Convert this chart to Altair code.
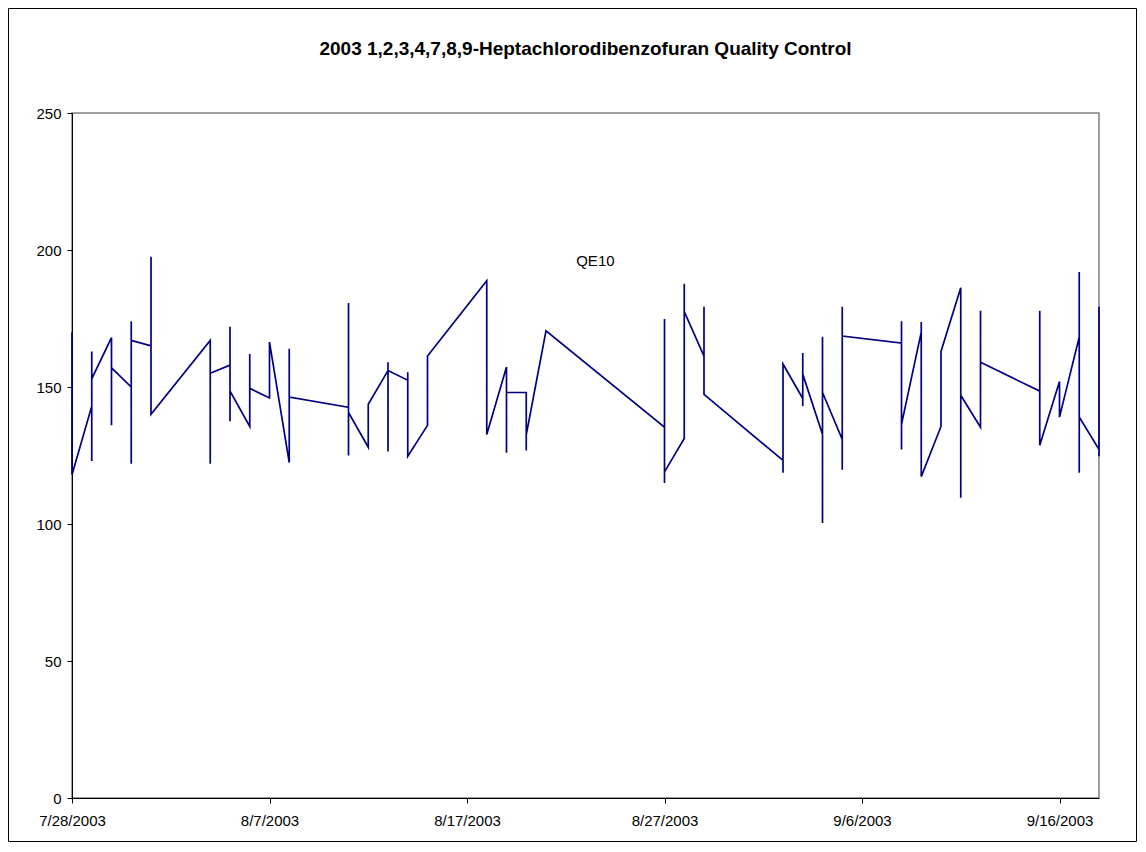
import altair as alt
import pandas as pd
from datetime import datetime, timedelta

# Days after 7/28/2003 for each measurement (several measurements per day)
day_offsets = [
    0, 0,
    1, 1, 1, 1,
    2, 2, 2,
    3, 3, 3, 3,
    4, 4, 4,
    7, 7, 7,
    8, 8, 8, 8,
    9, 9, 9,
    10, 10,
    11, 11, 11,
    14, 14, 14, 14,
    15, 15,
    16, 16, 16, 16,
    17, 17, 17,
    18, 18,
    21, 21,
    22, 22, 22,
    23, 23, 23,
    24,
    30, 30, 30, 30,
    31, 31, 31,
    32, 32, 32,
    36, 36, 36,
    37, 37, 37, 37,
    38, 38, 38, 38,
    39, 39, 39, 39,
    42, 42, 42, 42,
    43, 43, 43,
    44, 44,
    45, 45, 45,
    46, 46, 46,
    49, 49, 49,
    50, 50,
    51, 51, 51, 51,
    52, 52, 52,
]
values = [
    170, 118,
    143, 163, 123, 153,
    168, 136, 157,
    150, 174, 122, 167,
    165, 197.5, 140,
    167, 122, 155,
    158, 172, 137.5, 148.5,
    135.6, 162, 149.5,
    146, 166.4,
    122.4, 164, 146.3,
    142.6, 180.7, 125, 140.7,
    128, 143.7,
    156, 159, 126.5, 156,
    152.5, 155.4, 124.7,
    136, 161.3,
    188.8, 132.7,
    157.3, 126, 148,
    148, 126.8, 132.5,
    170.5,
    135.3, 174.8, 115, 119,
    131.2, 187.7, 177.5,
    161.3, 179.3, 147.3,
    123.2, 118.7, 158.4,
    145.8, 162.4, 143, 154.7,
    132.7, 168.3, 100.4, 148,
    130.9, 119.8, 179.3, 168.6,
    166, 174, 127.2, 136.4,
    170, 173.7, 117.3,
    135.6, 163,
    186.2, 109.6, 147,
    135.3, 177.8, 159,
    148.5, 177.8, 128.7,
    152, 139,
    168.3, 192, 118.7, 139,
    127.2, 179.3, 124.7,
]

tick_dates = ["2003-07-28", "2003-08-07", "2003-08-17", "2003-08-27", "2003-09-06", "2003-09-16"]
y_ticks = [0, 50, 100, 150, 200, 250]
series_label = "QE10"
title_text = "2003 1,2,3,4,7,8,9-Heptachlorodibenzofuran Quality Control"

base = datetime(2003, 7, 28)
df = pd.DataFrame({
    "date": [(base + timedelta(days=d)).strftime("%Y-%m-%dT00:00:00") for d in day_offsets],
    "value": values,
    "order": list(range(len(values))),
})

def dt(s):
    y, m, d = (int(p) for p in s.split("-"))
    return alt.DateTime(year=y, month=m, date=d)

FONT = "Liberation Sans"
W, H = 1027, 685

x_scale = alt.Scale(domain=[dt("2003-07-28"), dt("2003-09-18")], nice=False)
y_scale = alt.Scale(domain=[0, 250], nice=False)

line = alt.Chart(df).mark_line(color="#000080", strokeWidth=1.7).encode(
    x=alt.X("date:T", scale=x_scale,
            axis=alt.Axis(values=[dt(s) for s in tick_dates], format="%-m/%-d/%Y",
                          formatType="time", title=None, grid=False, labelFlush=False,
                          domainColor="black", tickColor="black", tickSize=5,
                          labelPadding=10, labelFontSize=15, labelFont=FONT,
                          labelColor="black", labelAngle=0, labelOverlap=False)),
    y=alt.Y("value:Q", scale=y_scale,
            axis=alt.Axis(values=y_ticks, title=None, grid=False,
                          domainColor="black", tickColor="black", tickSize=5,
                          labelPadding=6, labelFontSize=15, labelFont=FONT,
                          labelColor="black")),
    order="order:Q",
)

label_df = pd.DataFrame({"date": ["2003-08-23T12:00:00"], "value": [196], "text": [series_label]})
label = alt.Chart(label_df).mark_text(font=FONT, fontSize=15, color="black").encode(
    x=alt.X("date:T", scale=x_scale),
    y=alt.Y("value:Q", scale=y_scale),
    text="text:N",
)

one = pd.DataFrame({"t": [title_text]})

border = alt.Chart(one).mark_rect(
    fill=None, stroke="black", strokeWidth=1
).encode(
    x=alt.value(-63.5), x2=alt.value(W + 37.5),
    y=alt.value(-104.5), y2=alt.value(H + 43.5),
)

title = alt.Chart(one).mark_text(
    font=FONT, fontSize=19, fontWeight="bold", color="black", baseline="middle", align="center"
).encode(
    x=alt.value(W / 2), y=alt.value(-64), text="t:N",
)

chart = alt.layer(border, line, label, title).properties(
    width=W, height=H,
    autosize=alt.AutoSizeParams(type="none"),
    padding={"left": 64, "top": 105, "right": 38, "bottom": 44},
).configure(
    background="white",
    view=alt.ViewConfig(stroke="#808080", strokeWidth=1.5),
)

chart.save("out.html", embed_options={"renderer": "svg", "actions": False})
